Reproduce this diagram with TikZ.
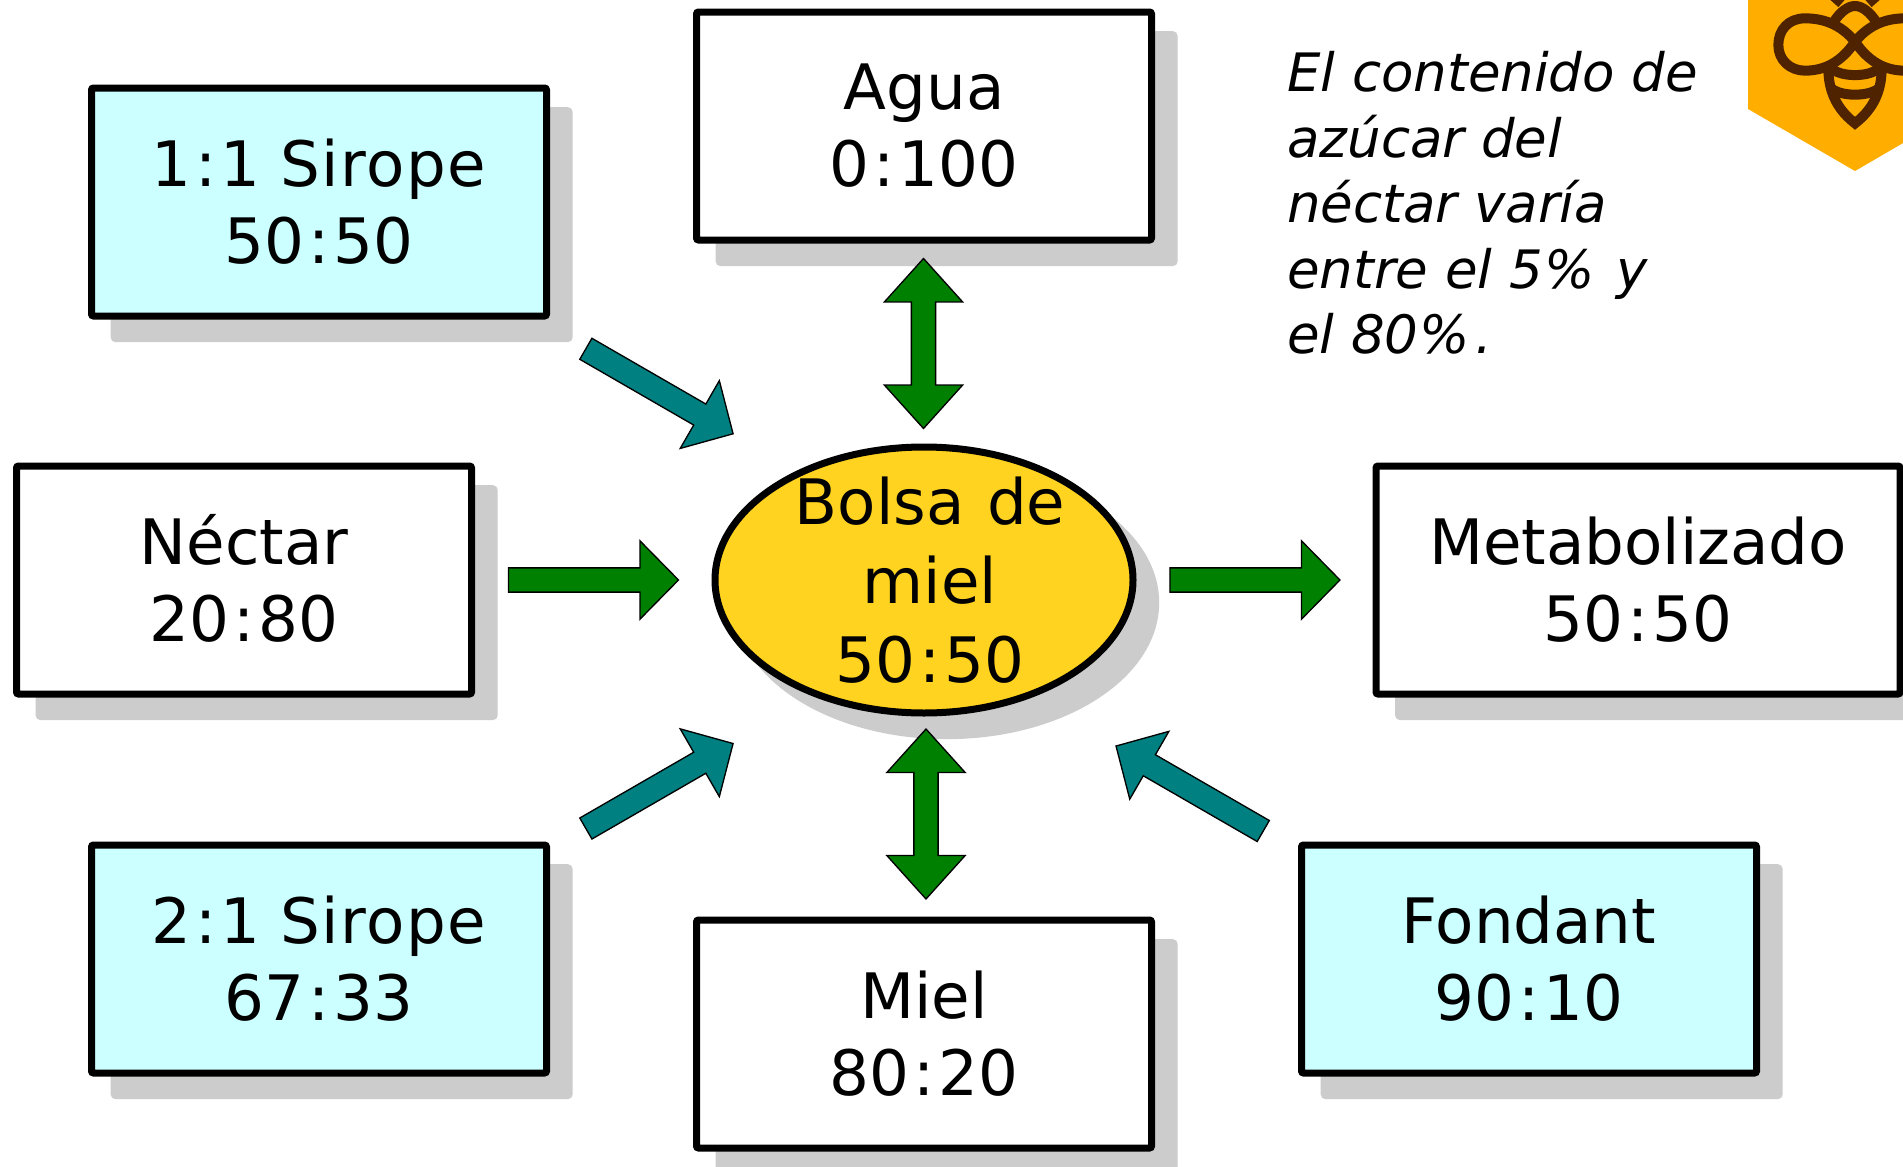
\documentclass[tikz,border=0pt]{standalone}
\usepackage{fontspec}
\setmainfont{DejaVu Sans}
\usetikzlibrary{shapes.geometric,shapes.arrows,shadows}
\definecolor{shadowgray}{HTML}{CCCCCC}
\definecolor{boxcyan}{HTML}{CCFFFF}
\definecolor{bagyellow}{HTML}{FFD320}
\definecolor{arrowteal}{HTML}{008080}
\definecolor{arrowgreen}{HTML}{008000}
\definecolor{hexorange}{HTML}{FFAE00}
\definecolor{beebrown}{HTML}{4F2300}
\newcommand{\cln}{\kern.06em:\kern.06em}
\newcommand{\wsp}{\hspace{.33em}}
\newcommand{\pct}{\kern.02em\%\kern.1em}
\newcommand{\wider}[1]{{\addfontfeatures{LetterSpace=2.4}#1}}
\tikzset{
  mainfont/.style={font=\fontsize{47}{57.75}\selectfont},
  softshadow/.style={copy shadow={shadow xshift=17pt,shadow yshift=-17pt,draw=shadowgray,fill=shadowgray}},
  boxbase/.style={rectangle,rounded corners=1.5pt,draw=black,line width=5.25pt,
    minimum width=341.25pt,minimum height=171pt,inner sep=0pt,align=center,mainfont,softshadow},
  whitebox/.style={boxbase,fill=white},
  cyanbox/.style={boxbase,fill=boxcyan},
  bag/.style={ellipse,draw=black,line width=5.25pt,fill=bagyellow,
    minimum width=313.5pt,minimum height=199.5pt,inner sep=0pt,softshadow},
  bagtext/.style={align=center,font=\fontsize{47}{59}\selectfont,inner sep=0pt},
  onearrow/.style={single arrow,draw=black,line width=1pt,inner sep=8.6pt,
    minimum height=127.5pt,minimum width=58pt,single arrow head extend=20.25pt,
    single arrow tip angle=91},
  twoarrow/.style={double arrow,draw=black,line width=1pt,fill=arrowgreen,inner sep=8.6pt,
    minimum height=127.5pt,minimum width=58pt,double arrow head extend=20.25pt,
    double arrow tip angle=84},
  noteText/.style={align=left,anchor=north west,inner sep=0pt,
    font=\fontsize{39.7}{49.1}\selectfont\itshape},
  beeline/.style={draw=beebrown,line width=7.5pt,line join=round}
}
\begin{document}
\begin{tikzpicture}[x=0.75pt,y=-0.75pt]
\clip (0,0) rectangle (1903,1167);
\fill[white] (0,0) rectangle (1903,1167);
% boxes
\node[whitebox] (agua) at (924,126) {Agua\\0\cln100};
\node[cyanbox] (siruno) at (319,202) {1\cln1\wsp\wider{Sirope}\\50\cln50};
\node[whitebox] (nectar) at (244,580) {\raisebox{0pt}[0.76em][0pt]{Néctar}\\20\cln80};
\node[whitebox,minimum width=393pt] (meta) at (1638,580) {Metabolizado\\50\cln50};
\node[cyanbox] (sirdos) at (319,959) {2\cln1\wsp\wider{Sirope}\\67\cln33};
\node[whitebox] (miel) at (924,1034) {Miel\\80\cln20};
\node[cyanbox] (fondant) at (1529,959) {Fondant\\90\cln10};
\node[bag] (bolsa) at (924,580) {};
\node[bagtext] (bolsatxt) at (930,580) {Bolsa\hspace{.36em}de\\miel\\50\cln50};
% arrows
\node[twoarrow,rotate=90] (aguaarrow) at (923.5,343.5) {};
\node[twoarrow,rotate=90] (mielarrow) at (926,814) {};
\node[onearrow,fill=arrowgreen] (nectararrow) at (587.5,580) {};
\node[onearrow,fill=arrowgreen] (metaarrow) at (1249,580) {};
\node[onearrow,fill=arrowteal,rotate=-30] (sirunoarrow) at (654.3,388.3) {};
\node[onearrow,fill=arrowteal,rotate=30] (sirdosarrow) at (654.3,789) {};
\node[onearrow,fill=arrowteal,rotate=150] (fondantarrow) at (1194.8,791.5) {};
% note
\node[noteText] (note) at (1287,51.5) {El contenido de\\azúcar del\\néctar varía\\entre el 5\pct{} y\\el 80\pct.};
% hexagon logo
\fill[hexorange] (1748,-5) -- (1748,109) -- (1855,171) -- (1910,139) -- (1910,-5) -- cycle;
\begin{scope}[shift={(1700,0)},x=0.25pt,y=-0.25pt]
  \draw[beeline] (465,125) .. controls (420,70) and (365,55) .. (315,55)
     .. controls (265,55) and (235,90) .. (235,135)
     .. controls (235,180) and (270,212) .. (315,212)
     .. controls (375,212) and (425,185) .. (465,125);
  \draw[beeline] (465,125) .. controls (510,70) and (565,55) .. (615,55)
     .. controls (665,55) and (695,90) .. (695,135)
     .. controls (695,180) and (660,212) .. (615,212)
     .. controls (555,212) and (505,185) .. (465,125);
  \draw[beeline] (400,68) .. controls (420,35) and (445,18) .. (465,18)
     .. controls (485,18) and (510,35) .. (530,68);
  \draw[beeline] (400,-12) -- (425,10);
  \draw[beeline] (530,-12) -- (505,10);
  \draw[beeline,line join=miter] (385,205) .. controls (385,285) and (420,335) .. (465,370)
     .. controls (510,335) and (545,285) .. (545,205);
  \draw[beeline] (395,205) .. controls (420,232) and (510,232) .. (535,205);
  \draw[beeline] (395,266) .. controls (425,290) and (505,290) .. (535,266);
\end{scope}
\end{tikzpicture}
\end{document}
